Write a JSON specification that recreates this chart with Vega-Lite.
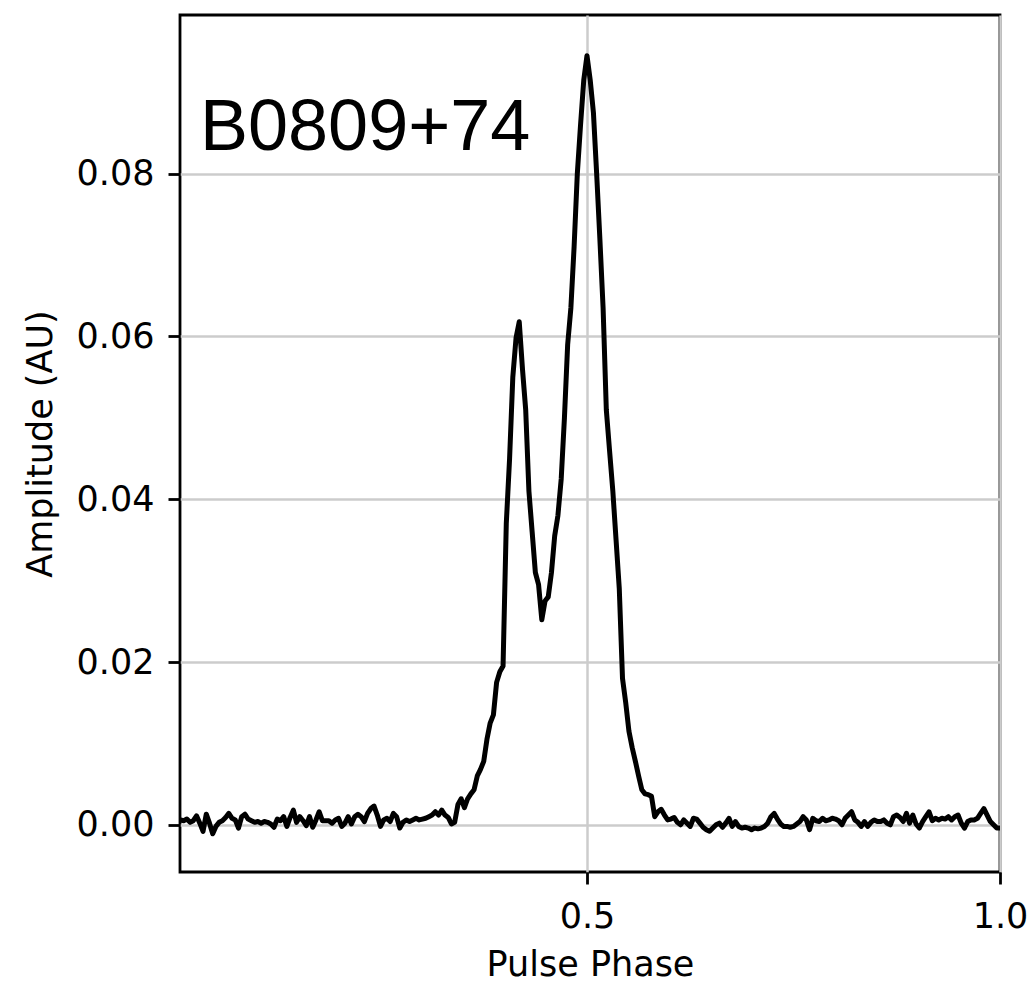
{
"$schema":"https://vega.github.io/schema/vega-lite/v6.json",
"width":820,"height":857,
"autosize":{"type":"none"},
"padding":{"left":180,"top":15,"right":36,"bottom":110},
"background":"white",
"config":{"view":{"stroke":"black","strokeWidth":2.8},
"axis":{"domain":false,"tickColor":"black","tickWidth":2.8,"tickSize":12,"labelFont":"DejaVu Sans","labelFontSize":35,"labelColor":"black","titleFont":"DejaVu Sans","titleFontSize":35,"titleFontWeight":"normal","titleColor":"black","gridColor":"#cccccc","gridWidth":2.5,"labelFlush":false,"labelOverlap":false}},
"layer":[
{"data":{"values":[
{"phase":0.0078,"amp":0.0006},{"phase":0.0117,"amp":0.0005},{"phase":0.0156,"amp":0.0007},{"phase":0.0195,"amp":0.0003},{"phase":0.0234,"amp":0.0005},{"phase":0.0273,"amp":0.0011},{"phase":0.0313,"amp":0.0002},{"phase":0.0352,"amp":-0.0008},{"phase":0.0391,"amp":0.0013},{"phase":0.0430,"amp":0.0002},
{"phase":0.0469,"amp":-0.0011},{"phase":0.0508,"amp":-0.0002},{"phase":0.0547,"amp":0.0003},{"phase":0.0586,"amp":0.0005},{"phase":0.0625,"amp":0.0009},{"phase":0.0664,"amp":0.0014},{"phase":0.0703,"amp":0.0008},{"phase":0.0742,"amp":0.0006},{"phase":0.0781,"amp":-0.0004},{"phase":0.0820,"amp":0.0010},
{"phase":0.0859,"amp":0.0013},{"phase":0.0898,"amp":0.0007},{"phase":0.0938,"amp":0.0005},{"phase":0.0977,"amp":0.0003},{"phase":0.1016,"amp":0.0004},{"phase":0.1055,"amp":0.0002},{"phase":0.1094,"amp":0.0004},{"phase":0.1133,"amp":0.0003},{"phase":0.1172,"amp":0.0001},{"phase":0.1211,"amp":-0.0003},
{"phase":0.1250,"amp":0.0007},{"phase":0.1289,"amp":0.0005},{"phase":0.1328,"amp":0.0010},{"phase":0.1367,"amp":-0.0002},{"phase":0.1406,"amp":0.0009},{"phase":0.1445,"amp":0.0018},{"phase":0.1484,"amp":0.0003},{"phase":0.1523,"amp":0.0010},{"phase":0.1563,"amp":0.0005},{"phase":0.1602,"amp":-0.0001},
{"phase":0.1641,"amp":0.0010},{"phase":0.1680,"amp":-0.0003},{"phase":0.1719,"amp":0.0006},{"phase":0.1758,"amp":0.0016},{"phase":0.1797,"amp":0.0005},{"phase":0.1836,"amp":0.0005},{"phase":0.1875,"amp":0.0005},{"phase":0.1914,"amp":0.0002},{"phase":0.1953,"amp":0.0006},{"phase":0.1992,"amp":0.0008},
{"phase":0.2031,"amp":-0.0002},{"phase":0.2070,"amp":0.0002},{"phase":0.2109,"amp":0.0010},{"phase":0.2148,"amp":0.0001},{"phase":0.2188,"amp":0.0010},{"phase":0.2227,"amp":0.0013},{"phase":0.2266,"amp":0.0010},{"phase":0.2305,"amp":0.0004},{"phase":0.2344,"amp":0.0014},{"phase":0.2383,"amp":0.0020},
{"phase":0.2422,"amp":0.0023},{"phase":0.2461,"amp":0.0012},{"phase":0.2500,"amp":-0.0002},{"phase":0.2539,"amp":0.0006},{"phase":0.2578,"amp":0.0008},{"phase":0.2617,"amp":0.0004},{"phase":0.2656,"amp":0.0014},{"phase":0.2695,"amp":0.0010},{"phase":0.2734,"amp":-0.0004},{"phase":0.2773,"amp":0.0003},
{"phase":0.2813,"amp":0.0006},{"phase":0.2852,"amp":0.0004},{"phase":0.2891,"amp":0.0006},{"phase":0.2930,"amp":0.0008},{"phase":0.2969,"amp":0.0006},{"phase":0.3008,"amp":0.0007},{"phase":0.3047,"amp":0.0008},{"phase":0.3086,"amp":0.0010},{"phase":0.3125,"amp":0.0012},{"phase":0.3164,"amp":0.0016},
{"phase":0.3203,"amp":0.0012},{"phase":0.3242,"amp":0.0018},{"phase":0.3281,"amp":0.0012},{"phase":0.3320,"amp":0.0009},{"phase":0.3359,"amp":0.0001},{"phase":0.3398,"amp":0.0003},{"phase":0.3438,"amp":0.0025},{"phase":0.3477,"amp":0.0032},{"phase":0.3516,"amp":0.0021},{"phase":0.3555,"amp":0.0032},
{"phase":0.3594,"amp":0.0038},{"phase":0.3633,"amp":0.0043},{"phase":0.3672,"amp":0.0060},{"phase":0.3711,"amp":0.0068},{"phase":0.3750,"amp":0.0078},{"phase":0.3789,"amp":0.0105},{"phase":0.3828,"amp":0.0125},{"phase":0.3867,"amp":0.0135},{"phase":0.3906,"amp":0.0175},{"phase":0.3945,"amp":0.0188},
{"phase":0.3984,"amp":0.0195},{"phase":0.4023,"amp":0.0370},{"phase":0.4063,"amp":0.0450},{"phase":0.4102,"amp":0.0550},{"phase":0.4141,"amp":0.0598},{"phase":0.4180,"amp":0.0618},{"phase":0.4219,"amp":0.0560},{"phase":0.4258,"amp":0.0510},{"phase":0.4297,"amp":0.0410},{"phase":0.4336,"amp":0.0360},
{"phase":0.4375,"amp":0.0310},{"phase":0.4414,"amp":0.0295},{"phase":0.4453,"amp":0.0252},{"phase":0.4492,"amp":0.0275},{"phase":0.4531,"amp":0.0280},{"phase":0.4570,"amp":0.0310},{"phase":0.4609,"amp":0.0355},{"phase":0.4648,"amp":0.0380},{"phase":0.4688,"amp":0.0425},{"phase":0.4727,"amp":0.0500},
{"phase":0.4766,"amp":0.0590},{"phase":0.4805,"amp":0.0635},{"phase":0.4844,"amp":0.0710},{"phase":0.4883,"amp":0.0800},{"phase":0.4922,"amp":0.0860},{"phase":0.4961,"amp":0.0915},{"phase":0.5000,"amp":0.0945},{"phase":0.5039,"amp":0.0915},{"phase":0.5078,"amp":0.0875},{"phase":0.5117,"amp":0.0800},
{"phase":0.5156,"amp":0.0720},{"phase":0.5195,"amp":0.0635},{"phase":0.5234,"amp":0.0510},{"phase":0.5273,"amp":0.0460},{"phase":0.5313,"amp":0.0410},{"phase":0.5352,"amp":0.0350},{"phase":0.5391,"amp":0.0290},{"phase":0.5430,"amp":0.0180},{"phase":0.5469,"amp":0.0150},{"phase":0.5508,"amp":0.0115},
{"phase":0.5547,"amp":0.0095},{"phase":0.5586,"amp":0.0078},{"phase":0.5625,"amp":0.0060},{"phase":0.5664,"amp":0.0043},{"phase":0.5703,"amp":0.0038},{"phase":0.5742,"amp":0.0037},{"phase":0.5781,"amp":0.0035},{"phase":0.5820,"amp":0.0010},{"phase":0.5859,"amp":0.0016},{"phase":0.5898,"amp":0.0019},
{"phase":0.5938,"amp":0.0012},{"phase":0.5977,"amp":0.0006},{"phase":0.6016,"amp":0.0007},{"phase":0.6055,"amp":0.0009},{"phase":0.6094,"amp":0.0003},{"phase":0.6133,"amp":0.0000},{"phase":0.6172,"amp":0.0006},{"phase":0.6211,"amp":0.0002},{"phase":0.6250,"amp":-0.0002},{"phase":0.6289,"amp":0.0008},
{"phase":0.6328,"amp":0.0007},{"phase":0.6367,"amp":0.0002},{"phase":0.6406,"amp":-0.0003},{"phase":0.6445,"amp":-0.0006},{"phase":0.6484,"amp":-0.0008},{"phase":0.6523,"amp":-0.0004},{"phase":0.6563,"amp":0.0000},{"phase":0.6602,"amp":0.0002},{"phase":0.6641,"amp":-0.0003},{"phase":0.6680,"amp":0.0002},
{"phase":0.6719,"amp":0.0008},{"phase":0.6758,"amp":-0.0002},{"phase":0.6797,"amp":0.0004},{"phase":0.6836,"amp":-0.0002},{"phase":0.6875,"amp":-0.0004},{"phase":0.6914,"amp":-0.0003},{"phase":0.6953,"amp":-0.0004},{"phase":0.6992,"amp":-0.0006},{"phase":0.7031,"amp":-0.0004},{"phase":0.7070,"amp":-0.0005},
{"phase":0.7109,"amp":-0.0004},{"phase":0.7148,"amp":-0.0002},{"phase":0.7188,"amp":0.0002},{"phase":0.7227,"amp":0.0010},{"phase":0.7266,"amp":0.0014},{"phase":0.7305,"amp":0.0007},{"phase":0.7344,"amp":0.0001},{"phase":0.7383,"amp":-0.0002},{"phase":0.7422,"amp":-0.0002},{"phase":0.7461,"amp":-0.0003},
{"phase":0.7500,"amp":-0.0002},{"phase":0.7539,"amp":0.0001},{"phase":0.7578,"amp":0.0004},{"phase":0.7617,"amp":0.0010},{"phase":0.7656,"amp":0.0006},{"phase":0.7695,"amp":-0.0006},{"phase":0.7734,"amp":0.0008},{"phase":0.7773,"amp":0.0005},{"phase":0.7813,"amp":0.0004},{"phase":0.7852,"amp":0.0008},
{"phase":0.7891,"amp":0.0005},{"phase":0.7930,"amp":0.0006},{"phase":0.7969,"amp":0.0008},{"phase":0.8008,"amp":0.0007},{"phase":0.8047,"amp":0.0005},{"phase":0.8086,"amp":0.0000},{"phase":0.8125,"amp":0.0008},{"phase":0.8164,"amp":0.0012},{"phase":0.8203,"amp":0.0016},{"phase":0.8242,"amp":0.0006},
{"phase":0.8281,"amp":0.0003},{"phase":0.8320,"amp":-0.0002},{"phase":0.8359,"amp":0.0004},{"phase":0.8398,"amp":-0.0002},{"phase":0.8438,"amp":0.0003},{"phase":0.8477,"amp":0.0006},{"phase":0.8516,"amp":0.0004},{"phase":0.8555,"amp":0.0004},{"phase":0.8594,"amp":0.0006},{"phase":0.8633,"amp":0.0002},
{"phase":0.8672,"amp":0.0000},{"phase":0.8711,"amp":0.0010},{"phase":0.8750,"amp":0.0012},{"phase":0.8789,"amp":0.0009},{"phase":0.8828,"amp":0.0004},{"phase":0.8867,"amp":0.0014},{"phase":0.8906,"amp":0.0002},{"phase":0.8945,"amp":0.0012},{"phase":0.8984,"amp":0.0001},{"phase":0.9023,"amp":-0.0004},
{"phase":0.9063,"amp":0.0004},{"phase":0.9102,"amp":0.0010},{"phase":0.9141,"amp":0.0016},{"phase":0.9180,"amp":0.0005},{"phase":0.9219,"amp":0.0008},{"phase":0.9258,"amp":0.0006},{"phase":0.9297,"amp":0.0008},{"phase":0.9336,"amp":0.0007},{"phase":0.9375,"amp":0.0010},{"phase":0.9414,"amp":0.0006},
{"phase":0.9453,"amp":0.0010},{"phase":0.9492,"amp":0.0012},{"phase":0.9531,"amp":0.0002},{"phase":0.9570,"amp":-0.0004},{"phase":0.9609,"amp":0.0004},{"phase":0.9648,"amp":0.0006},{"phase":0.9688,"amp":0.0006},{"phase":0.9727,"amp":0.0008},{"phase":0.9766,"amp":0.0014},{"phase":0.9805,"amp":0.0020},
{"phase":0.9844,"amp":0.0012},{"phase":0.9883,"amp":0.0004},{"phase":0.9922,"amp":0.0000},{"phase":0.9961,"amp":-0.0004},{"phase":1.0000,"amp":-0.0004}
]},
"mark":{"type":"line","color":"black","strokeWidth":5,"clip":true,"strokeJoin":"round"},
"encoding":{
"x":{"field":"phase","type":"quantitative","scale":{"domain":[0.0073,1.0],"nice":false,"zero":false},"axis":{"values":[0.5,1.0],"format":".1f","title":"Pulse Phase","labelPadding":15,"titlePadding":13}},
"y":{"field":"amp","type":"quantitative","scale":{"domain":[-0.0058,0.0995],"nice":false,"zero":false},"axis":{"values":[0,0.02,0.04,0.06,0.08],"format":".2f","title":"Amplitude (AU)","labelPadding":14,"titlePadding":18}}
}},
{"data":{"values":[{"phase":0.0315,"amp":0.0829,"label":"B0809+74"}]},
"mark":{"type":"text","align":"left","baseline":"alphabetic","font":"Liberation Sans","fontSize":72,"color":"black"},
"encoding":{
"x":{"field":"phase","type":"quantitative"},
"y":{"field":"amp","type":"quantitative"},
"text":{"field":"label"}
}}
]
}
